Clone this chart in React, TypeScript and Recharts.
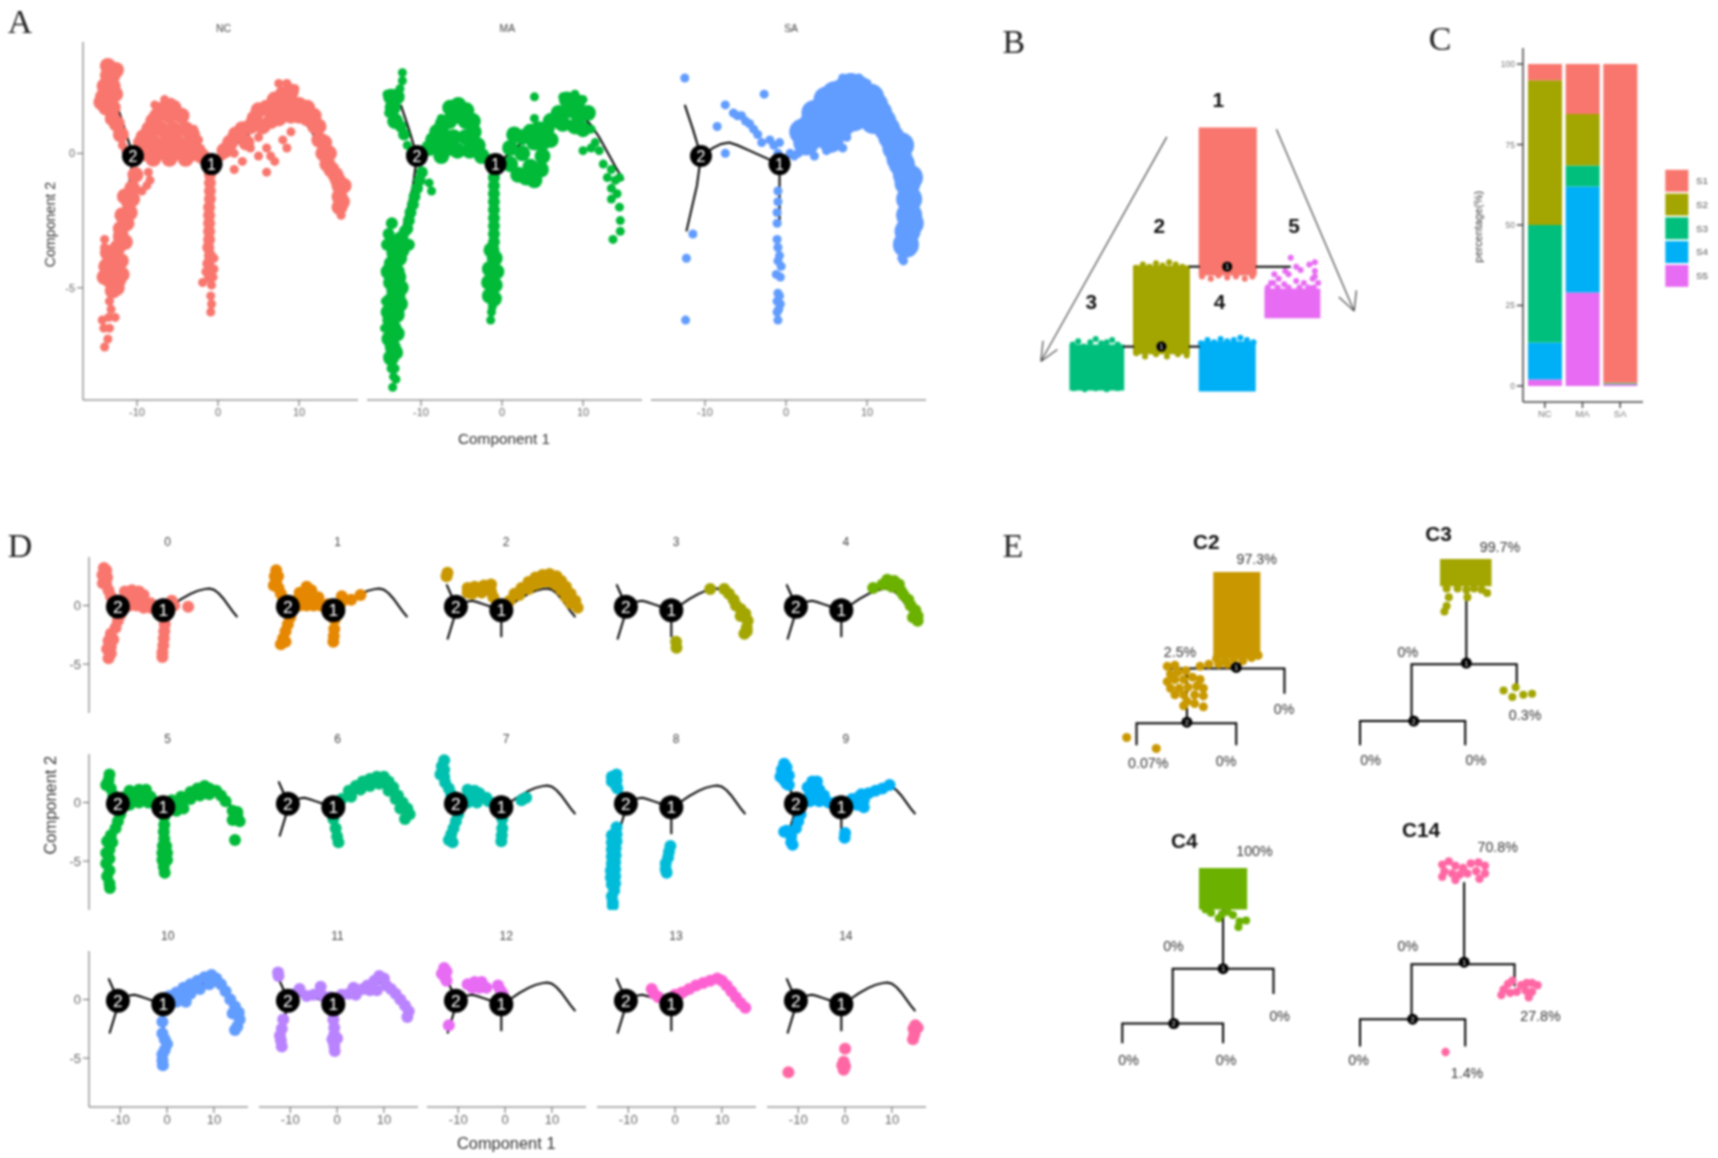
import { ScatterChart, Scatter, XAxis, YAxis, ReferenceArea, BarChart, Bar } from 'recharts'

type Pt = [number, number]

const RED = '#F8766D'
const OLIVE = '#A3A500'
const GREEN = '#00BF7D'
const SKY = '#00B0F6'
const VIOLET = '#E76BF3'

// ---- trajectory backbone, shared by A and D
const BB_UPPER: Pt[] = [[-12.5, 1.8], [-11.5, 0.9], [-10.5, -0.1]]
const BB_LOWER: Pt[] = [[-10.5, -0.1], [-11, -1.2], [-12.3, -2.9]]
const BB_MIDDLE: Pt[] = [[-10.5, -0.1], [-9, 0.2], [-8, 0.35], [-7, 0.4], [-6, 0.3], [-4.5, 0.1], [-3, -0.1], [-0.8, -0.4]]
const BB_STEM: Pt[] = [[-0.8, -0.4], [-0.8, -2.7]]
const BB_ARC: Pt[] = [[-0.8, -0.4], [1, 0], [3, 0.55], [5, 1], [6.5, 1.25], [8, 1.4], [9, 1.45], [10, 1.35], [11, 1.05], [12, 0.6], [13, 0.05], [14, -0.5], [15, -1]]
const BACKBONE = [BB_UPPER, BB_LOWER, BB_MIDDLE, BB_STEM, BB_ARC]
const NODES = [{ x: -10.5, y: -0.1, label: '2' }, { x: -0.8, y: -0.4, label: '1' }]

// ---- panel A
const NC_CORE: Pt[] = [
  [-13.6, 3.25], [-13.6, 2.9], [-13, 2.9], [-14, 2.5], [-13, 2.5], [-14.2, 2.1], [-13.2, 2.1], [-13.8, 1.7], [-13, 1.7], [-13, 1.3], [-12.6, 3.1], [-12.7, 2.2], [-14.4, 1.9], [-12.5, 1.1], [-12, 0.7],
  [-8.5, 0.9], [-7, 0.9], [-5.5, 0.9], [-4, 0.9], [-7.5, 1.4], [-6, 1.4], [-4.5, 1.4], [-6.5, 1.7], [-5.5, 1.7], [-9.2, 0.6], [-8, 1.2], [-3.2, 0.7], [-7, 1.6],
  [-9.5, 0.4], [-8, 0.4], [-6.5, 0.4], [-5, 0.4], [-3.5, 0.4], [-9, 0], [-7.5, 0], [-6, 0], [-4.5, 0], [-3, 0], [-2, -0.1], [-8, -0.2], [-6, -0.2], [-4, -0.2], [-7, 0.2], [-5.5, 0.6], [-8.6, 0.7], [-5, 0.1], [-2.5, 0.1],
  [3, 0.9], [4.5, 1.3], [6, 1.7], [7, 1.5], [8, 2.2], [9, 1.9], [10, 1.8], [9, 1.4], [7.5, 1.3], [5.5, 1.0], [11, 1.3], [12, 1], [12.5, 0.5], [13, 0], [13.5, -0.4], [14.5, -0.8], [15, -1.2], [15, -1.6], [1.5, 0.4],
  [0.8, 0.1], [2.2, 0.7], [3.5, 0.4], [4, 1], [5, 1.6], [6.5, 1.2], [7, 2], [8, 1.7], [9, 2.3], [10, 1.4], [11, 1.7], [11.8, 1.4], [12.4, 1], [13.1, 0.4], [13.7, 0], [14, -0.6], [14.8, -1], [15.5, -1.2], [15.3, -1.8], [15, -2],
  [-10.2, -0.8], [-10.6, -1.3], [-11, -1.8], [-12, -3.1], [-12.4, -3.5], [-13, -3.8], [-12.5, -4.3], [-13.3, -4.3], [-12.3, -4.7], [-13.4, -4.7], [-12.5, -5], [-13, -5.1],
  [-10.6, -1.7], [-10.9, -2.2], [-11.3, -2.6], [-11.5, -1.6], [-11.8, -2.3], [-12, -2.8], [-11.5, -3.3], [-13.6, -3.7], [-12, -4], [-14, -4.6], [-13.8, -4.2], [-11.9, -4.5],
]
const NC_EDGE: Pt[] = [
  [-11.8, 0.3], [-11.4, 0.1], [-14, -3.2], [-14, -3.5], [-13.4, -5.5], [-13.2, -5.8], [-13.5, -6.1], [-13.4, -6.5], [-14.3, -6.2], [-14.1, -6.5], [-13.6, -6.9], [-14, -7.2], [-12.7, -6.1],
  [2, 0], [3, -0.3], [4, 0.2], [5, -0.1], [6, 0.2], [7, -0.3], [6.5, -0.1], [8, 0.5], [8.5, 0.2], [9, 0.8], [3.5, 0.5], [5, 0.6], [6, -0.7], [2, -0.6], [0.5, -0.1], [15, -2], [15.2, -2.3], [7.5, 2.6], [8.5, 2.6], [9.5, 2.4],
  [-8.6, -0.7], [-8.4, -1], [-8.8, -1.2], [-9.4, -1.4], [-7.8, 1.8], [-6.6, 2], [-5.8, 1.9], [-3, 0.9], [-2.4, 0.5],
  [-0.5, -3.9], [-0.5, -4.3], [-1.5, -4.4], [-0.6, -4.6], [-1.9, -4.8], [-0.8, -4.9], [-0.9, -5.3], [-0.8, -5.6], [-0.9, -5.9],
]
const NC_STEM: Pt[] = [[-1, -0.8], [-1, -1.1], [-1, -1.4], [-1, -1.7], [-1.1, -2], [-1.1, -2.3], [-1.1, -2.6], [-1.1, -2.9], [-1.1, -3.2], [-1.2, -3.5], [-1, -3.8], [-1.2, -4.1], [-1, -4.6]]
const MA_CORE: Pt[] = [
  [-13.7, 2.1], [-13.5, 1.7], [-13.2, 1.2], [-13, 2.1],
  [-8, 0.8], [-6.5, 1.2], [-5.5, 1.4], [-4.5, 1.2], [-7.5, 0.3], [-6, 0.6], [-4.5, 0.6], [-9, 0.2], [-3.5, 0.8], [-7.5, -0.1], [-5.5, 0.1], [-4, 0.1], [-2.5, -0.1], [-8.5, 0.5], [-7.3, 1.1], [-6.4, 1.7], [-5.4, 1.8], [-4.4, 1.6], [-6.6, 0.2], [-3, 0.3], [-3.6, 1.2], [-7, 0.6],
  [1, 0.2], [2.5, 0.6], [1, -0.4], [2.5, 0], [4, 0.4], [3.5, -0.5], [5, -0.1], [6, 0.5], [2, -0.8], [4, -1], [5.5, 0.9], [7, 1.5], [8.5, 1.6], [9.5, 1.4], [8, 2], [7, 1.2], [10, 0.9], [1.5, 0.7], [3.5, 0.8], [5, 0.4], [3, -0.9], [4.8, -0.6], [6, 1.2], [7.5, 1.1], [9, 1], [9.3, 1.9], [10.6, 1.5], [4.5, 0.9],
  [-12.5, -3.2], [-13.5, -3.4], [-12.7, -3.9], [-13.6, -4.1], [-12.8, -4.6], [-13.7, -4.8], [-12.9, -5.3], [-13.8, -5.5], [-13, -6], [-13.8, -6.2], [-13, -6.7], [-13.9, -6.9], [-13.2, -7.4], [-13.7, -7.6],
  [-12.4, -3.6], [-13.3, -3.7], [-13, -4.4], [-13.3, -5.1], [-13.4, -5.8], [-13.4, -6.5], [-13.5, -7.2], [-12.5, -5], [-12.6, -5.6], [-14, -4.4], [-14, -5.9],
  [-1.3, -3.6], [-0.9, -3.9], [-1.5, -4.3], [-0.7, -4.4], [-1.6, -4.8], [-0.9, -4.9], [-1.5, -5.3], [-1, -5.4],
]
const MA_EDGE: Pt[] = [
  [-12.3, 3], [-12.3, 2.7], [-12.6, 2.4], [-14.2, 2.2], [-14, 1.5], [-11.7, 0.3], [-11.3, 0],
  [-9, -1.1], [-8.7, -1.4], [-7.5, 1.3],
  [-13.4, -8.3], [-13.5, -8.7], [-13.1, -8.4], [-14.4, -5.5], [-14.5, -6.5], [-13.2, -8], [-13.7, -8],
  [4, 2.1], [4, 1.3], [7.5, 2.1], [9, 2.2], [10, 2], [10.5, 1.4], [11, 0.9], [11.5, 0.4], [10, 0.1], [11, 0.2], [12, 0.1], [12.5, -0.4], [13, -0.9], [13.5, -0.6], [14, -1], [14.5, -0.9], [13.5, -1.3], [13.5, -1.7], [14.2, -1.5], [14.5, -2], [14.6, -2.5], [14.6, -2.9], [13.7, -3.2],
  [-1.2, -5.7], [-1.3, -5.9], [-1.4, -6.2],
]
const MA_STEM: Pt[] = [[-12.5, 1], [-12.1, 0.7], [-9.9, -0.7], [-10.2, -1], [-10.5, -1.3], [-10.8, -1.6], [-11, -1.9], [-11.3, -2.2], [-11.5, -2.5], [-11.7, -2.8], [-12, -2.9], [-13.6, -2.6], [-14, -3], [-14.2, -3.4], [-11.5, -3.4], [-1, -0.9], [-1, -1.2], [-1, -1.5], [-1, -1.8], [-1, -2.1], [-1, -2.4], [-1, -2.7], [-1, -3], [-1, -3.3]]
const SA_CORE: Pt[] = [
  [3, 1], [4.5, 1.6], [6, 2.2], [7.5, 2.4], [9, 2.3], [10.5, 2.1], [4, 0.7], [5.5, 1.3], [7, 1.7], [8.5, 1.8], [10, 1.5], [11.5, 1.5], [12.5, 0.9], [13.5, 0.2], [14.3, -0.4], [15, -1.1], [15.2, -1.7], [15.2, -2.3], [15, -2.9], [14.8, -3.4], [14.8, -0.8], [14, -0.2], [5.5, 0.5], [2.5, 0.4],
  [2, 0.8], [3.5, 1.5], [5, 2], [7, 2.3], [8, 2.5], [9, 2.4], [11, 1.8], [12, 1.2], [13, 0.6], [15.3, -0.9], [15.4, -2.6], [14.2, 0.3], [8.4, 1.3], [7, 1.1], [10.8, 1.2],
]
const SA_EDGE: Pt[] = [
  [-12.5, 2.8], [-7.5, 1.8], [-6.5, 1.5], [-6, 1.4], [-5.5, 1.4], [-5, 1.2], [-4.5, 1.1], [-4, 0.9], [-3.5, 0.7], [-3, 0.4], [-2.7, 2.2], [-8.5, 1.0], [-7.5, 0], [-2, 0.5], [-1.5, 0.3], [-0.8, 0.4], [-1, 0],
  [0.5, 0], [1.5, 0], [1, -0.1], [3.5, -0.1], [5, 0.1], [6.5, 0.4], [7, 0.2], [7.5, 0.6],
  [16, -1.5], [16, -2.3], [15.8, -2.9], [15.7, -3.4], [14.3, -3.4], [14.3, -3.9], [14.5, -4], [15.5, -0.7], [8, 2.8], [7, 2.8], [9, 2.8], [10, 2.6],
  [-12.3, -3.9], [-12.4, -6.2], [-11.5, -3],
  [-1, -1.4], [-1, -1.8], [-1.1, -2.2], [-1.1, -2.6], [-1.1, -3.2], [-1, -3.5], [-0.8, -3.8], [-1, -4], [-0.6, -4.2], [-1.2, -4.5], [-0.7, -4.6], [-1, -5.2], [-1.1, -5.5], [-0.9, -5.8], [-1.1, -5.9], [-0.7, -5.6], [-0.8, -5.3], [-1, -6.2],
]

// ---- panel D, one list per cluster
const D_CLUSTERS: Pt[][] = [
  [[-13.5, 3.2], [-13, 3], [-13.8, 2.6], [-12.8, 2.4], [-13.7, 1.9], [-13, 1.8], [-12.5, 1.3], [-12, 0.8], [-11.5, 0.3], [-9, 1.2], [-7.5, 1.3], [-6, 1.2], [-5, 0.9], [-8, 0.6], [-6.5, 0.6], [-5, 0.3], [-3.5, 0.2], [-8, 0], [-6.5, 0], [-5, -0.2], [-3.5, -0.2], [-2, -0.1], [1, 0.4], [1.5, 0], [4.5, -0.1], [-10, -0.8], [-10.5, -1.3], [-11, -1.9], [-12, -2.4], [-11.5, -2.9], [-12.5, -3], [-12, -3.5], [-12.8, -3.7], [-12, -4.1], [-12.5, -4.5], [-0.5, -1], [-0.5, -1.6], [-0.6, -2.2], [-0.7, -2.8], [-0.8, -3.4], [-1, -4], [-1, -4.4]],
  [[-13, 3], [-13.3, 2.5], [-12.6, 2.5], [-13, 2], [-13.5, 1.7], [-12.5, 1.5], [-12, 1], [-11.5, 0.5], [-8, 1.1], [-6.5, 1.6], [-5.5, 1.3], [-8.5, 0.5], [-7, 0.7], [-5.5, 0.6], [-4, 0.7], [-8, 0], [-6.5, 0], [-5, 0], [-3.5, 0], [-2, 0.1], [1, 0.8], [1, 0.3], [3, 0.5], [5, 0.9], [-10, -1], [-10.5, -1.6], [-11, -2.2], [-11.5, -2.8], [-12, -3.3], [-11, -3.1], [-0.5, -1.2], [-0.6, -2], [-0.7, -2.6], [-0.8, -3.1]],
  [[-12.3, 2.8], [-12.5, 2.5], [-8, 1.5], [-6.5, 1.6], [-4.5, 1.7], [-3, 1.8], [-7, 1], [-5, 1.1], [-3, 1.2], [-2.5, 0.7], [-8, 1.1], [1, 0.4], [2, 1], [3.5, 1.5], [5, 2], [6.5, 2.4], [8, 2.6], [9.5, 2.7], [11, 2.5], [12, 2.1], [13, 1.6], [14, 1], [15, 0.4], [15.5, -0.2], [3, 0.9], [5, 1.4], [6.5, 1.8], [8, 2], [9.5, 2], [11, 1.7], [12, 1.3], [13, 0.7], [14, 0.2]],
  [[7.5, 1.4], [10.5, 1.4], [11.5, 1], [12.5, 0.5], [13, 0], [14, -0.3], [15, -0.7], [15.5, -1.3], [15.3, -1.9], [14.8, -2.4], [15.3, -2.2], [14, -0.9], [0.2, -3.1], [0.3, -3.6]],
  [[6, 1.5], [8, 1.8], [9, 2.2], [10.5, 2.1], [11.5, 1.8], [10, 1.6], [12, 1.2], [12.5, 0.9], [13.5, 0.5], [14, 0], [15, -0.4], [15.5, -0.9], [15.5, -1.3], [14.5, -1]],
  [[-12.3, 2.4], [-12.5, 1.9], [-13, 1.5], [-12, 1.2], [-11.5, 0.6], [-8, 1], [-6, 1.1], [-4.5, 1.1], [-9, 0.5], [-7, 0.5], [-5, 0.5], [-3.5, 0.5], [-8, 0], [-6, 0], [-4, 0], [-2, 0], [-8, -0.2], [1, 0.2], [3, 0.5], [5, 0.9], [6.5, 1.2], [8, 1.4], [9, 1.2], [10.5, 1], [11.5, 0.6], [1, -0.3], [3, 0], [5, 0.3], [7, 0.6], [9, 0.7], [2, -0.7], [3.5, -0.5], [12.5, 0.1], [14, -0.7], [15, -1], [15.5, -1.6], [14, -1.5], [14.5, -3.2], [15, -0.8], [-10, -1], [-10.5, -1.6], [-11, -2.2], [-12, -2.8], [-12.8, -3.3], [-11.7, -3.4], [-12.3, -4], [-13, -4.3], [-12.3, -4.8], [-13, -5.2], [-12.3, -5.8], [-12.8, -6.3], [-12.3, -6.9], [-12.2, -7.3], [-0.6, -1.2], [-0.6, -1.9], [-0.7, -2.5], [-0.6, -3.1], [-0.9, -3.7], [-0.2, -3.7], [-1, -4.3], [0, -4.3], [-1, -4.9], [0, -4.9], [-0.7, -5.5], [-0.5, -6]],
  [[1, 0.3], [2.5, 1], [4, 1.4], [5.5, 1.8], [7, 2], [8.5, 2.2], [10, 2.2], [11, 1.8], [12, 1.3], [13, 0.6], [14, 0], [15, -0.5], [15.5, -1], [14.5, -1.4], [3, 0.5], [5, 1.1], [7, 1.4], [9, 1.6], [11, 1], [12.5, 0.3], [13.5, -0.5], [-0.8, -1.4], [-0.3, -2.2], [0, -2.9], [0.3, -3.4]],
  [[-13, 3.6], [-13.5, 3.1], [-13, 2.8], [-13.8, 2.4], [-13, 2.2], [-12.8, 1.7], [-12, 1.2], [-11.5, 0.7], [-8, 1.1], [-6.5, 1], [-5.5, 0.8], [-8, 0.5], [-6, 0.4], [-4, 0.4], [-8, 0], [-6, 0], [-3.5, 0.1], [-2, -0.1], [4.5, 0.4], [3.5, 0.2], [-10, -1], [-10.5, -1.6], [-11, -2.2], [-11.5, -2.7], [-12, -3.2], [-11.2, -3.4], [-0.6, -1.4], [-0.6, -2.2], [-0.7, -2.8], [-0.8, -3.3]],
  [[-13.5, 2.2], [-12.5, 2.4], [-13.5, 1.8], [-12.5, 1.9], [-12.6, 1.4], [-12.3, 1.2], [-12.5, -2.1], [-12.5, -2.7], [-13.5, -2.8], [-12.5, -3.3], [-13.5, -3.4], [-12.7, -3.9], [-13.5, -4], [-12.7, -4.5], [-13.5, -4.6], [-12.8, -5.1], [-13.5, -5.2], [-12.8, -5.7], [-13.7, -5.8], [-12.8, -6.3], [-13.7, -6.4], [-12.8, -6.9], [-13.5, -7], [-13, -7.5], [-13.5, -8], [-13.3, -8.5], [-13.3, -8.8], [-1, -3.7], [-1.3, -4.2], [-1.5, -4.7], [-2, -5.2], [-2, -5.7], [-1.8, -6]],
  [[-13, 3.3], [-12.5, 3], [-13.5, 2.8], [-13, 2.4], [-12, 2.3], [-13.8, 2.2], [-13, 1.9], [-12.5, 1.6], [-12, 1.5], [-7, 1.8], [-6, 1.8], [-8, 1.3], [-6.5, 1.2], [-5.5, 1.1], [-7.5, 0.7], [-6, 0.6], [-4.5, 0.6], [-7.5, 0.1], [-5.5, 0.1], [-3.5, 0], [-2, 0], [1.5, 0.3], [3, 0.5], [4, 0.2], [3.5, 0.7], [5, 0.8], [6.5, 1], [8, 1.2], [9.5, 1.5], [2.5, -0.2], [4, -0.4], [-9.5, -1], [-10, -1.6], [-10.5, -2.2], [-12.5, -2.4], [-13, -2.5], [-11.5, -2.9], [-11.5, -3.4], [-11.2, -3.6], [0, -2.6], [-0.1, -3]],
  [[0.5, 0.3], [2, 0.6], [3.5, 1], [5, 1.3], [6.5, 1.6], [8, 1.9], [9.5, 2.1], [10.5, 1.8], [11.5, 1.3], [12.5, 0.7], [13.5, 0], [14.5, -0.6], [15.3, -1.1], [15.5, -1.7], [15, -2.3], [14.5, -2.6], [3, 0.2], [5, 0.5], [7, 0.9], [9, 1.3], [2, -0.2], [14, -1.2], [4, -0.2], [-1, -1.9], [-1, -2.9], [-0.5, -3.4], [0, -3.8], [-0.5, -4.3], [-1, -4.7], [-1, -5.2], [-0.9, -5.6]],
  [[-12.6, 2.3], [-12.5, 2], [-8, 0.9], [-9, 0.5], [-6.5, 0.3], [-3.5, 1.1], [-5, 0.4], [-3, 0.3], [-1.5, 0.2], [1, 0.4], [2.5, 0.5], [3.5, 1], [4, 0.4], [5.5, 0.9], [6.5, 1.2], [7, 0.8], [8, 1.6], [9, 2], [10, 1.8], [10.5, 1.2], [11.5, 0.9], [12.5, 0.5], [13.5, 0], [14.5, -0.5], [15.3, -1], [15, -1.5], [8.5, 0.8], [-11.5, -1.7], [-11.8, -2.5], [-12.2, -3.1], [-12, -3.5], [-11.8, -4], [-0.8, -1.7], [-0.6, -2.4], [-0.6, -3], [-1, -3.4], [0, -3.3], [-0.6, -3.9], [-0.5, -4.4]],
  [[-13, 2.7], [-12.5, 2.4], [-13.5, 2.2], [-12.8, 1.9], [-12.5, 1.6], [-8, 1.3], [-6.5, 1.5], [-5, 1.5], [-7, 1], [-5.5, 1], [-4, 1], [-1.5, 1.2], [-1, 0.8], [-0.5, 0.5], [-12, -2.2]],
  [[-5, 0.9], [-4.5, 0.5], [-3.5, 0.2], [0, 0.4], [1.5, 0.6], [3, 0.9], [4.5, 1.2], [6, 1.4], [7.5, 1.6], [9, 1.8], [10, 1.6], [11, 1.2], [12, 0.7], [13, 0.2], [14, -0.3], [15, -0.7]],
  [[15, -2.2], [14.6, -2.5], [15.5, -2.4], [14.8, -3], [14.5, -3.4], [0, -4.2], [-0.3, -5.3], [-0.6, -5.6], [0, -5.7], [-0.3, -6], [-12.1, -6.2]],
]
const D_COLORS = ['#F8766D', '#E58700', '#C99800', '#A3A500', '#6BB100', '#00BA38', '#00BF7D', '#00C0AF', '#00BCD8', '#00B0F6', '#619CFF', '#B983FF', '#E76BF3', '#FD61D1', '#FF67A4']

// ---- panel C
const GROUPS = ['NC', 'MA', 'SA']
const STATE_NAMES = ['S1', 'S2', 'S3', 'S4', 'S5']
const STATE_COLORS = [RED, OLIVE, GREEN, SKY, VIOLET]
const S1_PCT = [5, 15.5, 99]
const S2_PCT = [45, 16, 0.2]
const S3_PCT = [36.5, 6.5, 0.3]
const S4_PCT = [11.5, 33, 0]
const S5_PCT = [2, 29, 0.5]
const barRows = GROUPS.map((g, i) => ({ group: g, S1: S1_PCT[i], S2: S2_PCT[i], S3: S3_PCT[i], S4: S4_PCT[i], S5: S5_PCT[i] }))

// ---- panel B, read in picture units
const B_TREE: Pt[][] = [[[1085, 243], [1095, 243]], [[1146, 243], [1178, 243]], [[1025, 316], [1035, 316]], [[1085, 316], [1095, 316]]]
const B_NODES = [{ x: 1120, y: 243, label: '1' }, { x: 1060, y: 316, label: '1' }]
const B_BLOCKS = [
  { color: RED, x1: 1094, x2: 1147, y1: 116, y2: 251 },
  { color: OLIVE, x1: 1034, x2: 1086, y1: 242, y2: 323 },
  { color: GREEN, x1: 976, x2: 1026, y1: 314, y2: 356 },
  { color: SKY, x1: 1094, x2: 1146, y1: 311, y2: 357 },
  { color: VIOLET, x1: 1154, x2: 1205, y1: 263, y2: 290 },
]
const B_RED_DOTS: Pt[] = [[1097, 252], [1105, 254], [1112, 251], [1120, 253], [1128, 252], [1136, 254], [1143, 252]]
const B_OLIVE_DOTS: Pt[] = [[1037, 244], [1043, 241], [1049, 243], [1055, 240], [1061, 242], [1067, 239], [1073, 241], [1079, 243], [1037, 322], [1045, 325], [1055, 323], [1065, 325], [1075, 323], [1083, 324]]
const B_GREEN_DOTS: Pt[] = [[979, 314], [984, 311], [989, 316], [995, 312], [1000, 309], [1005, 313], [1010, 312], [1015, 310], [1020, 314], [980, 354], [990, 355], [1000, 354], [1010, 355], [1020, 354]]
const B_SKY_DOTS: Pt[] = [[1096, 313], [1102, 310], [1108, 312], [1114, 309], [1120, 311], [1126, 310], [1132, 308], [1138, 310], [1144, 312]]
const B_VIOLET_DOTS: Pt[] = [[1157, 262], [1162, 258], [1167, 254], [1172, 259], [1176, 250], [1178, 235], [1183, 243], [1187, 246], [1195, 241], [1200, 239], [1200, 247], [1198, 254], [1190, 258], [1183, 256], [1173, 247], [1163, 250], [1203, 258], [1199, 262], [1166, 262], [1176, 262], [1186, 262], [1194, 262], [1160, 258], [1200, 252]]

// ---- panel E, read in picture units
const E_TREES: Pt[][] = [
  [[1065, 610], [1172, 610], [1172, 633]], [[1083, 610], [1083, 660]], [[1037, 680], [1037, 660], [1128, 660], [1128, 680]],
  [[1338, 535], [1338, 605]], [[1288, 658], [1288, 606], [1384, 606], [1384, 625]], [[1241, 680], [1241, 658], [1337, 658], [1337, 680]],
  [[1116, 830], [1116, 884]], [[1070, 934], [1070, 884], [1162, 884], [1162, 907]], [[1024, 952], [1024, 934], [1116, 934], [1116, 952]],
  [[1336, 805], [1336, 878]], [[1288, 930], [1288, 880], [1382, 880], [1382, 900]], [[1241, 955], [1241, 930], [1337, 930], [1337, 955]],
]
const E_NODES = [
  { x: 1128, y: 609, label: '1' }, { x: 1083, y: 659, label: '2' },
  { x: 1338, y: 605, label: '1' }, { x: 1290, y: 658, label: '2' },
  { x: 1116, y: 884, label: '1' }, { x: 1071, y: 934, label: '2' },
  { x: 1336, y: 878, label: '1' }, { x: 1289, y: 930, label: '2' },
]
const E_BLOCKS = [
  { color: '#C99800', x1: 1107, x2: 1150, y1: 522, y2: 601 },
  { color: '#A3A500', x1: 1314, x2: 1361, y1: 510, y2: 535 },
  { color: '#6BB100', x1: 1094, x2: 1138, y1: 792, y2: 830 },
]
const C2_DOTS: Pt[] = [[1065, 608], [1072, 607], [1068, 615], [1075, 613], [1082, 612], [1065, 622], [1072, 620], [1080, 620], [1088, 618], [1095, 620], [1068, 628], [1076, 628], [1084, 627], [1092, 626], [1098, 628], [1072, 634], [1080, 634], [1090, 634], [1098, 635], [1083, 640], [1090, 642], [1098, 645], [1080, 644], [1095, 608], [1103, 606], [1028, 673], [1055, 683], [1110, 601], [1118, 603], [1126, 601], [1134, 603], [1142, 600], [1148, 598], [1112, 606], [1120, 606]]
const C3_DOTS: Pt[] = [[1320, 537], [1322, 545], [1320, 553], [1318, 558], [1338, 538], [1339, 545], [1352, 538], [1357, 541], [1330, 537], [1345, 537], [1372, 630], [1383, 627], [1380, 636], [1390, 634], [1398, 633]]
const C4_DOTS: Pt[] = [[1100, 830], [1105, 833], [1115, 834], [1112, 838], [1125, 835], [1131, 841], [1130, 846], [1137, 840], [1120, 832]]
const C14_DOTS: Pt[] = [[1316, 789], [1322, 786], [1328, 790], [1335, 792], [1342, 788], [1349, 787], [1355, 790], [1318, 795], [1325, 797], [1332, 798], [1339, 797], [1347, 795], [1355, 797], [1316, 800], [1328, 803], [1350, 802], [1370, 908], [1372, 903], [1376, 898], [1380, 895], [1378, 906], [1384, 905], [1388, 899], [1393, 897], [1398, 897], [1403, 899], [1392, 904], [1398, 905], [1395, 910], [1319, 960]]

// ---- texts, in picture units
const LETTERS = [['A', 7, 30], ['B', 915, 48], ['C', 1304, 46], ['D', 7, 508], ['E', 915, 508]]
const A_TITLES = [['NC', 204], ['MA', 463], ['SA', 722]]
const STATE_NUMBERS = [['1', 1112, 98], ['2', 1058, 213], ['3', 996, 282], ['4', 1113, 282], ['5', 1181, 213]]
const E_TITLES = [['C2', 1101, 501], ['C3', 1313, 494], ['C4', 1081, 774], ['C14', 1297, 764]]
const E_PERCENT = [
  ['97.3%', 1147, 515], ['2.5%', 1077, 600], ['0%', 1172, 652], ['0.07%', 1048, 701], ['0%', 1119, 699],
  ['99.7%', 1369, 504], ['0%', 1285, 600], ['0.3%', 1392, 657], ['0%', 1251, 698], ['0%', 1347, 698],
  ['100%', 1145, 781], ['0%', 1071, 868], ['0%', 1168, 932], ['0%', 1030, 972], ['0%', 1119, 972],
  ['70.8%', 1367, 778], ['0%', 1285, 868], ['27.8%', 1406, 932], ['0%', 1240, 972], ['1.4%', 1339, 984],
]
const D_COL_CENTERS = [153, 308, 462, 617, 772]
const D_ROW_BASES = [498, 678, 858]

const K = 1718 / 1568
const FONT = '"Liberation Sans", Arial, sans-serif'
const X_DOMAIN = [-16.67, 17.28]
const Y_DOMAIN = [-9.17, 4.14]

const pts = (list: Pt[]) => list.map(([x, y]) => ({ x, y }))

const dots = (key: string, list: Pt[], color: string, r: number) => (
  <Scatter
    key={key}
    data={pts(list)}
    isAnimationActive={false}
    shape={(p: any) => <circle cx={p.cx} cy={p.cy} r={r} fill={color} />}
  />
)

const polyline = (key: string, list: Pt[], width: number, color = '#000') => (
  <Scatter
    key={key}
    data={pts(list)}
    isAnimationActive={false}
    line={{ stroke: color, strokeWidth: width }}
    lineType="joint"
    shape={() => <g />}
  />
)

const nodeMarks = (key: string, list: any[], r: number, size: number) => (
  <Scatter
    key={key}
    data={list}
    isAnimationActive={false}
    shape={(p: any) => (
      <g>
        <circle cx={p.cx} cy={p.cy} r={r} fill="#000" />
        <text x={p.cx} y={p.cy + size * 0.36} textAnchor="middle" fontSize={size} fontFamily={FONT} fill="#fff">
          {p.payload?.label}
        </text>
      </g>
    )}
  />
)

function TrajectoryPanel({ left, top, width, height, xAxis, yAxis, tickSize, nodeR, children }: any) {
  const axisW = yAxis ? 36 : 0
  const axisH = xAxis ? 34 : 0
  return (
    <div style={{ position: 'absolute', left: left - axisW, top }}>
      <ScatterChart width={width + axisW} height={height + axisH} margin={{ top: 0, right: 0, bottom: 0, left: 0 }}>
        <XAxis
          type="number"
          dataKey="x"
          domain={X_DOMAIN}
          ticks={[-10, 0, 10]}
          hide={!xAxis}
          height={axisH}
          allowDataOverflow
          stroke="#666"
          tick={{ fontSize: tickSize, fill: '#666', fontFamily: FONT }}
        />
        <YAxis
          type="number"
          dataKey="y"
          domain={Y_DOMAIN}
          ticks={[-5, 0]}
          hide={!yAxis}
          width={axisW}
          allowDataOverflow
          stroke="#666"
          tick={{ fontSize: tickSize, fill: '#666', fontFamily: FONT }}
        />
        {BACKBONE.map((b, i) => polyline(`bb${i}`, b, 2))}
        {children}
        {nodeMarks('nodes', NODES, nodeR, nodeR * 1.45)}
      </ScatterChart>
    </div>
  )
}

function PicturePanel({ x0, x1, y0, y1, children }: any) {
  return (
    <div style={{ position: 'absolute', left: x0 * K, top: y0 * K }}>
      <ScatterChart width={(x1 - x0) * K} height={(y1 - y0) * K} margin={{ top: 0, right: 0, bottom: 0, left: 0 }}>
        <XAxis type="number" dataKey="x" domain={[x0, x1]} hide />
        <YAxis type="number" dataKey="y" domain={[y0, y1]} reversed hide />
        {children}
      </ScatterChart>
    </div>
  )
}

const blockAreas = (list: any[]) =>
  list.map((b) => (
    <ReferenceArea key={b.x1 + '-' + b.y1} x1={b.x1} x2={b.x2} y1={b.y1} y2={b.y2} fill={b.color} fillOpacity={1} stroke="none" />
  ))

export default function App() {
  const D_LEFTS = [89, 259, 427, 597, 767]
  const D_TOPS = [557, 754, 951]
  return (
    <div style={{ position: 'absolute', left: 0, top: 0, width: 1718, height: 1158, background: '#fff', overflow: 'hidden', filter: 'blur(0.8px)' }}>
      {/* A */}
      <TrajectoryPanel left={83} top={42} width={275} height={358} xAxis yAxis tickSize={11} nodeR={11}>
        {dots('nc-core', NC_CORE, '#F8766D', 8)}
        {dots('nc-stem', NC_STEM, '#F8766D', 6)}
        {dots('nc-edge', NC_EDGE, '#F8766D', 4.5)}
      </TrajectoryPanel>
      <TrajectoryPanel left={367} top={42} width={275} height={358} xAxis tickSize={11} nodeR={11}>
        {dots('ma-core', MA_CORE, '#00BA38', 8)}
        {dots('ma-stem', MA_STEM, '#00BA38', 6)}
        {dots('ma-edge', MA_EDGE, '#00BA38', 4.5)}
      </TrajectoryPanel>
      <TrajectoryPanel left={651} top={42} width={275} height={358} xAxis tickSize={11} nodeR={11}>
        {dots('sa-core', SA_CORE, '#619CFF', 13)}
        {dots('sa-edge', SA_EDGE, '#619CFF', 4.5)}
      </TrajectoryPanel>

      {/* D */}
      {D_CLUSTERS.map((cluster, i) => {
        const col = i % 5
        const row = Math.floor(i / 5)
        return (
          <TrajectoryPanel
            key={i}
            left={D_LEFTS[col]}
            top={D_TOPS[row]}
            width={159}
            height={156}
            xAxis={row === 2}
            yAxis={col === 0}
            tickSize={13}
            nodeR={12}
          >
            {dots(`d${i}`, cluster, D_COLORS[i], 6)}
          </TrajectoryPanel>
        )
      })}

      {/* B */}
      <PicturePanel x0={940} x1={1250} y0={90} y1={370}>
        {B_TREE.map((t, i) => polyline(`bt${i}`, t, 2))}
        {blockAreas(B_BLOCKS)}
        {dots('b1', B_RED_DOTS, RED, 3)}
        {dots('b2', B_OLIVE_DOTS, OLIVE, 3)}
        {dots('b3', B_GREEN_DOTS, GREEN, 3)}
        {dots('b4', B_SKY_DOTS, SKY, 3)}
        {dots('b5', B_VIOLET_DOTS, VIOLET, 3)}
        {nodeMarks('bn', B_NODES, 5, 7)}
      </PicturePanel>

      {/* C */}
      <div style={{ position: 'absolute', left: 1483, top: 48 }}>
        <BarChart width={160} height={354 + 30} data={barRows} margin={{ top: 0, right: 0, bottom: 0, left: 0 }} barSize={34}>
          <XAxis dataKey="group" height={30} padding={{ left: 3, right: 4 }} stroke="#444" strokeWidth={1.5} tick={{ fontSize: 9.5, fill: '#777', fontFamily: FONT }} />
          <YAxis type="number" width={40} domain={[-5, 105]} ticks={[0, 25, 50, 75, 100]} stroke="#444" strokeWidth={1.5} tick={{ fontSize: 8.5, fill: '#777', fontFamily: FONT }} />
          {[4, 3, 2, 1, 0].map((i) => (
            <Bar key={i} dataKey={STATE_NAMES[i]} stackId="a" fill={STATE_COLORS[i]} isAnimationActive={false} />
          ))}
        </BarChart>
      </div>

      {/* E */}
      <PicturePanel x0={1000} x1={1430} y0={500} y1={1000}>
        {E_TREES.map((t, i) => polyline(`et${i}`, t, 2))}
        {blockAreas(E_BLOCKS)}
        {dots('c2', C2_DOTS, '#C99800', 4.5)}
        {dots('c3', C3_DOTS, '#A3A500', 4)}
        {dots('c4', C4_DOTS, '#6BB100', 4)}
        {dots('c14', C14_DOTS, '#FF67A4', 4.2)}
        {nodeMarks('en', E_NODES, 5.5, 7)}
      </PicturePanel>

      {/* texts and arrows */}
      <svg viewBox="0 0 1568 1057" width={1718} height={1158} style={{ position: 'absolute', left: 0, top: 0, pointerEvents: 'none' }} fontFamily={FONT}>
        {LETTERS.map(([t, x, y]: any) => (
          <text key={t} x={x} y={y} fontSize={31} fontFamily='"Liberation Serif", serif' fill="#222">{t}</text>
        ))}
        {A_TITLES.map(([t, x]: any) => (
          <text key={t} x={x} y={29} fontSize={9.5} textAnchor="middle" fill="#444">{t}</text>
        ))}
        <text x={460} y={405} fontSize={14} textAnchor="middle" fill="#333">Component 1</text>
        <text transform="translate(50,205) rotate(-90)" fontSize={13} textAnchor="middle" fill="#333">Component 2</text>
        <text x={462} y={1049} fontSize={15} textAnchor="middle" fill="#333">Component 1</text>
        <text transform="translate(51,735) rotate(-90)" fontSize={15} textAnchor="middle" fill="#333">Component 2</text>
        {D_ROW_BASES.map((y, r) =>
          D_COL_CENTERS.map((x, c) => (
            <text key={`${r}-${c}`} x={x} y={y} fontSize={11} textAnchor="middle" fill="#444">{r * 5 + c}</text>
          )),
        )}
        {STATE_NUMBERS.map(([t, x, y]: any) => (
          <text key={t} x={x} y={y} fontSize={19} fontWeight="bold" textAnchor="middle" fill="#111">{t}</text>
        ))}
        {E_TITLES.map(([t, x, y]: any) => (
          <text key={t} x={x} y={y} fontSize={19} fontWeight="bold" textAnchor="middle" fill="#111">{t}</text>
        ))}
        {E_PERCENT.map(([t, x, y]: any, i) => (
          <text key={i} x={x} y={y} fontSize={13} textAnchor="middle" fill="#333">{t}</text>
        ))}
        <g stroke="#555" strokeWidth={1.2} fill="none">
          <path d="M1065 125 L950 330 M950 330 L952 311 M950 330 L965 319" />
          <path d="M1165 118 L1236 284 M1236 284 L1222 271 M1236 284 L1238 265" />
        </g>
        <text transform="translate(1353,207) rotate(-90)" fontSize={10} textAnchor="middle" fill="#333">percentage(%)</text>
        {STATE_NAMES.map((s, i) => (
          <g key={s}>
            <rect x={1520} y={155 + i * 21.7} width={21} height={20} fill={STATE_COLORS[i]} />
            <text x={1548} y={168 + i * 21.7} fontSize={9} fill="#555">{s}</text>
          </g>
        ))}
      </svg>
    </div>
  )
}
